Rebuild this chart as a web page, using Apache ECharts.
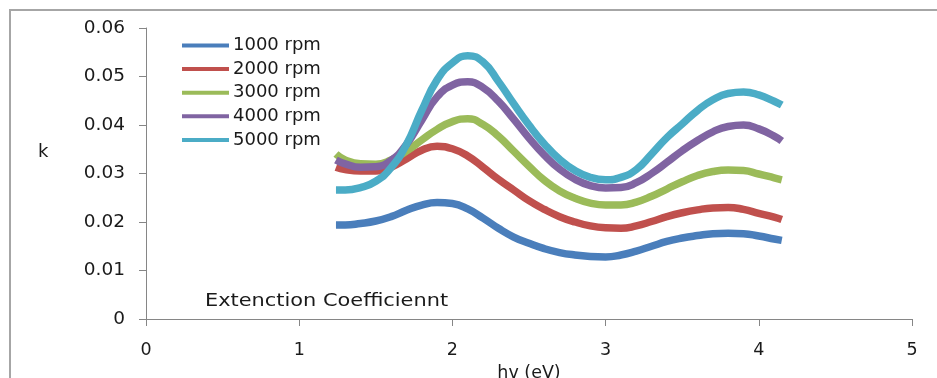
<!DOCTYPE html>
<html>
<head>
<meta charset="utf-8">
<script src="https://cdn.jsdelivr.net/npm/echarts@6/dist/echarts.min.js"></script>
<style>
  html, body { margin: 0; padding: 0; background: #fff; }
  #chart { width: 937px; height: 378px; }
</style>
</head>
<body>
<div id="chart"></div>
<script>
// Photon energy (eV) sampling shared by all spin speeds
const energy = [1.24,1.3,1.4,1.5,1.6,1.7,1.8,1.9,2.0,2.1,2.2,2.3,2.4,2.5,2.6,2.7,
                2.8,2.9,3.0,3.1,3.2,3.3,3.4,3.5,3.6,3.7,3.8,3.9,4.0,4.1,4.15];

// Extinction coefficient k for each spin speed
const k1000 = [0.0194,0.0194,0.0197,0.0202,0.0211,0.0224,0.0235,0.0240,0.0238,0.0227,0.0208,0.0187,0.0169,0.0156,0.0145,0.0137,
               0.0132,0.0129,0.0128,0.0132,0.0140,0.0150,0.0160,0.0167,0.0172,0.0176,0.0177,0.0176,0.0171,0.0165,0.0162];
const k2000 = [0.0313,0.0308,0.0305,0.0305,0.0313,0.0330,0.0348,0.0356,0.0351,0.0336,0.0313,0.0288,0.0266,0.0244,0.0226,0.0211,
               0.0200,0.0192,0.0188,0.0187,0.0192,0.0201,0.0211,0.0219,0.0225,0.0229,0.0230,0.0226,0.0218,0.0210,0.0205];
const k3000 = [0.0340,0.0328,0.0320,0.0319,0.0328,0.0346,0.0369,0.0391,0.0407,0.0413,0.0401,0.0377,0.0346,0.0315,0.0286,0.0264,
               0.0249,0.0239,0.0235,0.0235,0.0241,0.0253,0.0268,0.0283,0.0296,0.0304,0.0307,0.0306,0.0299,0.0291,0.0287];
const k4000 = [0.0328,0.0320,0.0313,0.0314,0.0327,0.0360,0.0410,0.0458,0.0482,0.0489,0.0477,0.0449,0.0412,0.0373,0.0338,0.0309,
               0.0288,0.0275,0.0270,0.0271,0.0281,0.0300,0.0323,0.0347,0.0368,0.0386,0.0397,0.0400,0.0392,0.0377,0.0367];
const k5000 = [0.0266,0.0266,0.0271,0.0284,0.0312,0.0360,0.0430,0.0493,0.0528,0.0543,0.0530,0.0490,0.0444,0.0400,0.0361,0.0329,
               0.0306,0.0292,0.0287,0.0292,0.0308,0.0340,0.0374,0.0402,0.0430,0.0452,0.0465,0.0468,0.0462,0.0449,0.0441];

const seriesNames = ['1000 rpm','2000 rpm','3000 rpm','4000 rpm','5000 rpm'];
const seriesValues = [k1000, k2000, k3000, k4000, k5000];
const seriesColors = ['#4A7EBB','#C0504D','#9BBB59','#8064A2','#4BACC6'];

const FONT = 'DejaVu Sans';
const TEXT = '#1a1a1a';
const AXIS = '#868686';

const chart = echarts.init(document.getElementById('chart'), null, { renderer: 'canvas' });

chart.setOption({
  backgroundColor: '#ffffff',
  animation: false,
  grid: { left: 146, top: 28, right: 25, bottom: 59, containLabel: false, outerBoundsMode: 'none' },
  legend: {
    orient: 'vertical',
    left: 182,
    top: 36.5,
    padding: 0,
    icon: 'rect',
    itemWidth: 47,
    itemHeight: 4,
    itemGap: 5.6,
    textStyle: { fontFamily: FONT, fontSize: 18, color: TEXT, padding: [0, 0, 0, -1] },
    data: seriesNames
  },
  xAxis: {
    type: 'value',
    min: 0, max: 5, interval: 1,
    name: 'hv (eV)',
    nameLocation: 'middle',
    nameGap: 45,
    nameTextStyle: { fontFamily: FONT, fontSize: 17.5, color: TEXT },
    axisLine: { show: true, onZero: false, lineStyle: { color: AXIS, width: 1 } },
    axisTick: { show: true, inside: false, length: 7, lineStyle: { color: AXIS } },
    axisLabel: { fontFamily: FONT, fontSize: 17.5, color: TEXT, margin: 22 },
    splitLine: { show: false }
  },
  yAxis: {
    type: 'value',
    min: 0, max: 0.06, interval: 0.01,
    axisLine: { show: true, lineStyle: { color: AXIS, width: 1 } },
    axisTick: { show: true, inside: false, length: 7, lineStyle: { color: AXIS } },
    axisLabel: {
      fontFamily: FONT, fontSize: 18.5, color: TEXT, margin: 21,
      formatter: v => (v === 0 ? '0' : v.toFixed(2))
    },
    splitLine: { show: false }
  },
  graphic: [
    {
      type: 'rect', silent: true, z: -1,
      shape: { x: 10, y: 10, width: 1000, height: 1000 },
      style: { fill: 'none', stroke: '#a6a6a6', lineWidth: 2 }
    },
    {
      type: 'text', left: 38, top: 143,
      style: { text: 'k', fontFamily: FONT, fontSize: 18, fill: TEXT }
    },
    {
      type: 'text', x: 205, y: 292, scaleX: 1.16,
      style: { text: 'Extenction Coefficiennt', fontFamily: FONT, fontSize: 18, fill: TEXT }
    }
  ],
  series: seriesNames.map((name, i) => ({
    name,
    type: 'line',
    smooth: 0.5,
    showSymbol: false,
    symbol: 'none',
    color: seriesColors[i],
    lineStyle: { width: 7.5, color: seriesColors[i] },
    data: energy.map((x, j) => [x, seriesValues[i][j]])
  }))
});
</script>
</body>
</html>
